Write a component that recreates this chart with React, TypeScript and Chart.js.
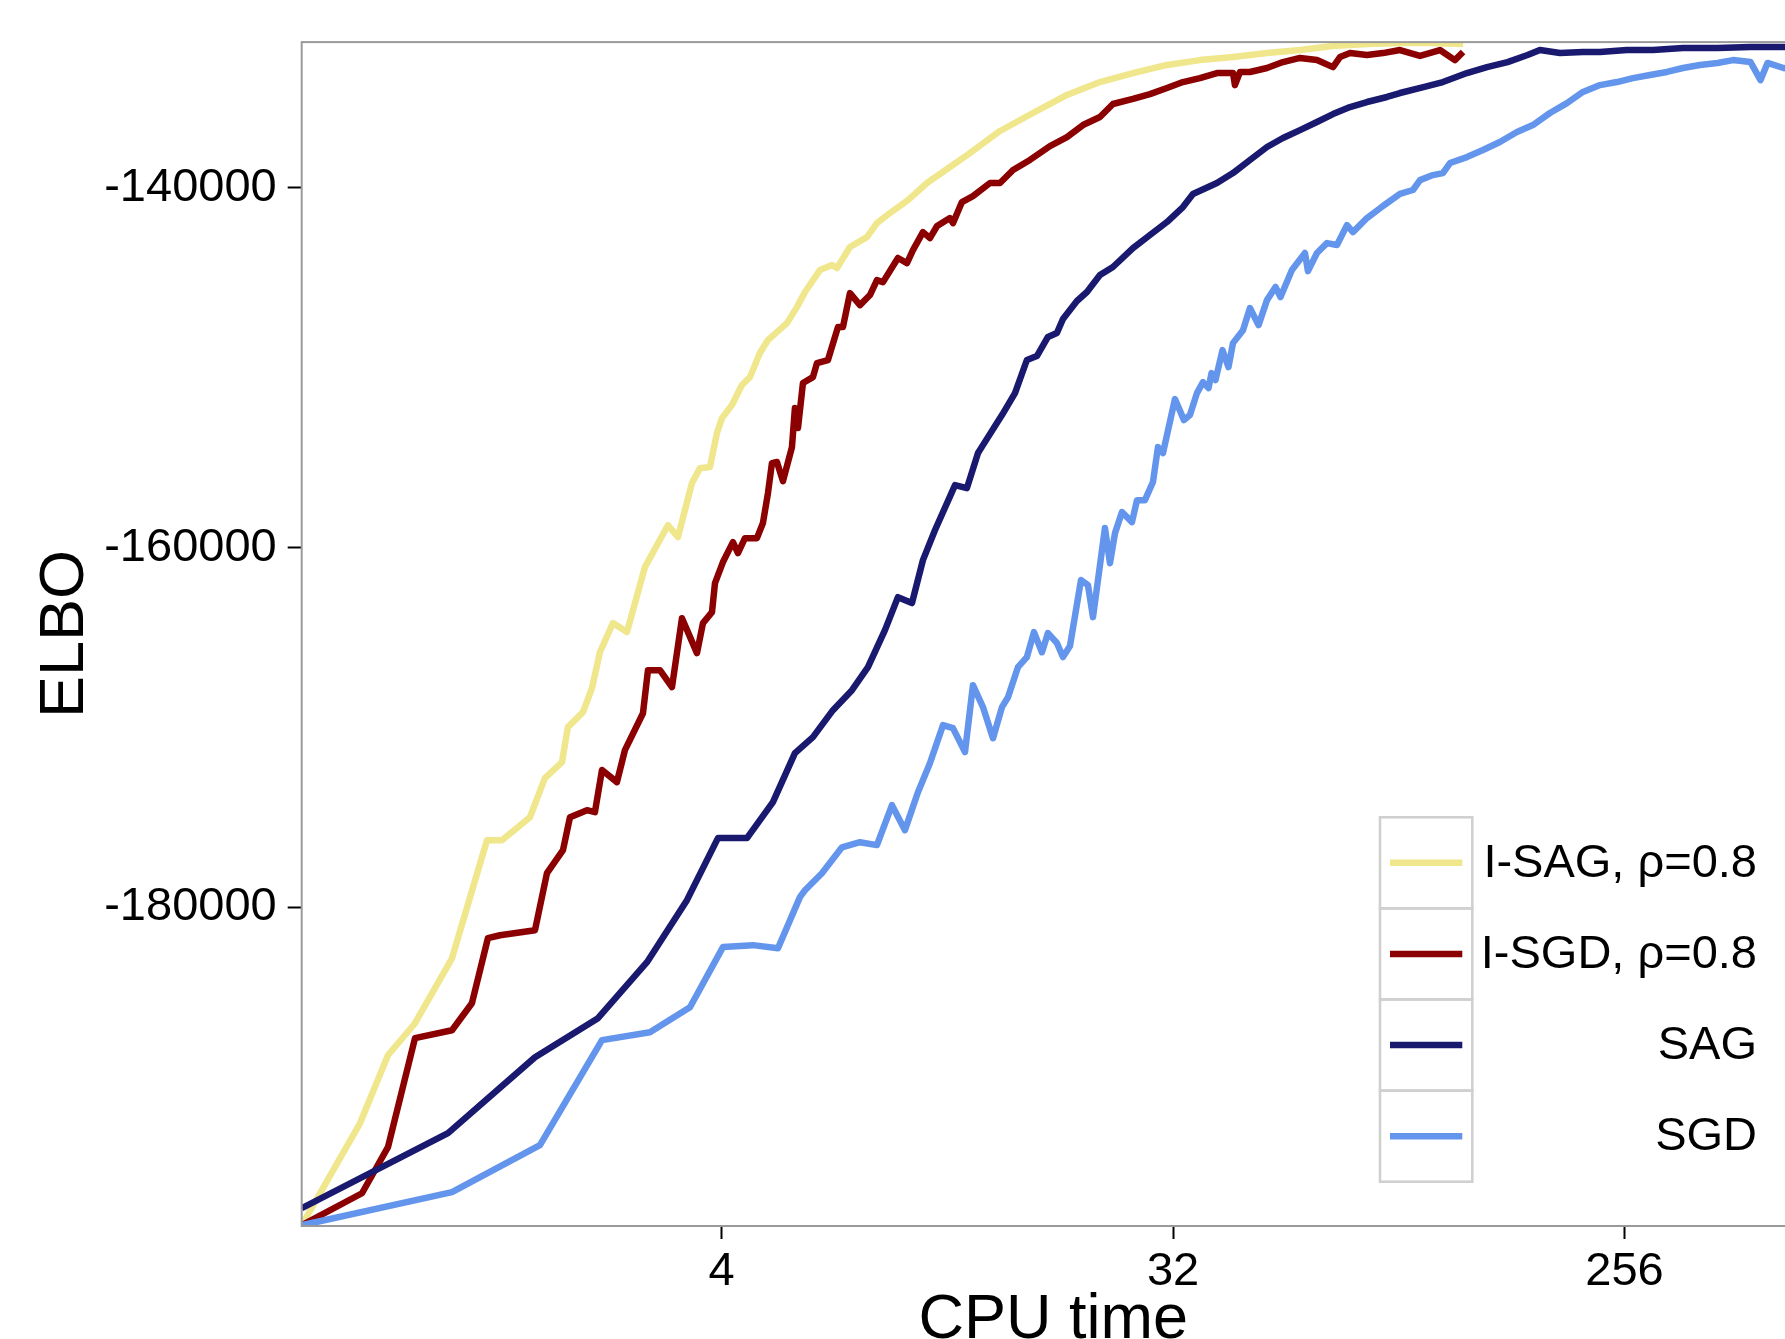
import React, { useEffect, useRef } from "react";
import { Chart, registerables } from "chart.js";

Chart.register(...registerables);

// ---------- data ----------
const seriesLabels = ["I-SAG, ρ=0.8", "I-SGD, ρ=0.8", "SAG", "SGD"];
const seriesColors = ["#F0E68C", "#8B0000", "#191970", "#6495ED"];
const xTickValues = [4, 32, 256];
const yTickValues = [-180000, -160000, -140000];

const isagTime = [0.578, 0.756, 0.86, 0.974, 1.155, 1.357, 1.454, 1.654, 1.772, 1.917, 1.97, 2.112, 2.201, 2.283, 2.424, 2.586, 2.809, 3.123, 3.271, 3.488, 3.62, 3.79, 3.914, 4.006, 4.194, 4.392, 4.557, 4.771, 4.951, 5.404, 5.658, 5.871, 6.291, 6.649, 6.804, 7.223, 7.812, 8.18, 8.685, 9.437, 10.3, 11.45, 12.55, 14.42, 16.78, 19.63, 22.85, 26.6, 31.11, 36.22, 42.17, 49.32, 57.42, 66.85, 78.17, 91.0, 104.5, 121.7];
const isagElbo = [-197660, -191990, -188210, -186430, -182820, -176260, -176260, -174980, -172810, -171920, -169970, -169140, -167810, -165810, -164190, -164690, -161080, -158750, -159410, -156410, -155580, -155520, -153630, -152800, -152070, -150960, -150520, -149180, -148460, -147520, -146630, -145790, -144570, -144290, -144460, -143290, -142740, -141960, -141400, -140680, -139730, -138840, -138070, -136840, -135840, -134840, -134120, -133620, -133170, -132900, -132730, -132510, -132340, -132120, -132010, -131950, -131950, -132010];

const isgdTime = [0.578, 0.763, 0.86, 0.974, 1.155, 1.266, 1.363, 1.441, 1.693, 1.789, 1.926, 1.989, 2.151, 2.231, 2.305, 2.469, 2.562, 2.784, 2.849, 3.01, 3.182, 3.332, 3.57, 3.67, 3.826, 3.879, 4.024, 4.214, 4.312, 4.453, 4.706, 4.838, 4.951, 5.043, 5.16, 5.305, 5.53, 5.606, 5.685, 5.817, 6.091, 6.205, 6.527, 6.835, 6.994, 7.223, 7.564, 7.921, 8.18, 8.41, 9.011, 9.393, 9.656, 10.11, 10.44, 10.79, 11.45, 11.61, 12.1, 12.73, 13.77, 14.42, 15.31, 16.55, 18.15, 19.63, 21.13, 22.85, 24.26, 26.6, 28.77, 31.11, 33.49, 36.22, 39.17, 42.17, 42.55, 43.55, 45.6, 49.32, 53.09, 57.42, 62.09, 66.85, 69.04, 72.3, 78.17, 84.16, 91.0, 99.8, 109.4, 117.2, 121.7];
const isgdElbo = [-197660, -195880, -193320, -187260, -186820, -185320, -181700, -181540, -181260, -178090, -176810, -174980, -174590, -174700, -172360, -173030, -171250, -169200, -166810, -166810, -167750, -163920, -165860, -164190, -163580, -161970, -160800, -159690, -160300, -159470, -159470, -158630, -156970, -155300, -155240, -156300, -154410, -152240, -153350, -150850, -150520, -149740, -149570, -147740, -147740, -145850, -146520, -145960, -145130, -145240, -143900, -144180, -143460, -142460, -142790, -142120, -141680, -141960, -140790, -140460, -139730, -139730, -139010, -138450, -137680, -137180, -136510, -136060, -135340, -135060, -134790, -134450, -134120, -133900, -133620, -133620, -134290, -133560, -133560, -133340, -133010, -132780, -132900, -133290, -132730, -132510, -132620, -132510, -132340, -132670, -132340, -132900, -132450];

const sagTime = [0.578, 1.134, 1.693, 2.263, 2.836, 3.409, 3.932, 4.495, 5.066, 5.606, 6.091, 6.679, 7.291, 7.848, 8.487, 9.011, 9.611, 10.11, 10.69, 11.72, 12.38, 13.03, 13.33, 14.55, 15.45, 16.32, 17.09, 17.98, 18.74, 19.27, 20.55, 21.52, 22.85, 24.26, 26.6, 28.77, 31.11, 33.49, 35.07, 39.17, 42.17, 45.6, 49.32, 53.09, 57.42, 62.09, 66.85, 72.3, 78.17, 85.72, 91.0, 101.4, 110.9, 123.9, 135.9, 149.4, 163.8, 173.4, 190.2, 211.4, 228.7, 258.9, 291.9, 335.1, 393.0, 457.5, 532.6, 588];
const sagElbo = [-196710, -192540, -188320, -186150, -183040, -179590, -176140, -176140, -174140, -171420, -170530, -169030, -167920, -166640, -164580, -162750, -163080, -160690, -159020, -156520, -156690, -154740, -154300, -152630, -151410, -149570, -149350, -148290, -148070, -147290, -146290, -145790, -144850, -144400, -143350, -142620, -141900, -141070, -140340, -139730, -139180, -138450, -137730, -137230, -136790, -136340, -135900, -135510, -135230, -134950, -134730, -134400, -134120, -133620, -133290, -133010, -132620, -132340, -132510, -132450, -132450, -132340, -132340, -132230, -132230, -132170, -132170, -132170];

const sgdTime = [0.578, 1.155, 1.732, 2.305, 2.875, 3.457, 4.024, 4.621, 5.185, 5.737, 5.871, 6.349, 6.962, 7.564, 8.18, 8.766, 9.306, 9.88, 10.44, 11.09, 11.61, 12.27, 12.73, 13.33, 13.96, 14.55, 14.96, 15.66, 16.32, 16.86, 17.49, 17.98, 18.74, 19.27, 19.9, 20.94, 21.62, 22.13, 23.38, 23.93, 24.49, 25.29, 26.48, 27.1, 28.11, 29.17, 29.85, 30.55, 32.28, 33.65, 34.59, 35.72, 36.73, 37.68, 38.2, 38.91, 40.18, 41.31, 42.17, 44.16, 45.6, 47.44, 49.32, 51.3, 52.49, 55.33, 58.75, 59.57, 62.09, 65.01, 68.08, 71.29, 73.29, 78.17, 84.16, 91.0, 96.62, 99.8, 105.9, 110.9, 114.6, 123.9, 133.4, 144.2, 156.0, 167.9, 181.6, 196.4, 211.4, 228.7, 247.3, 266.2, 287.9, 311.3, 335.1, 362.4, 393.0, 422.0, 457.5, 479.1, 494.8, 532.6, 588];
const sgdElbo = [-197660, -195820, -193210, -187370, -186930, -185540, -182200, -182090, -182260, -179420, -179040, -178090, -176650, -176370, -176530, -174310, -175700, -173590, -171980, -169860, -170030, -171360, -167640, -168860, -170590, -168860, -168310, -166640, -166080, -164690, -165810, -164750, -165300, -166080, -165470, -161800, -162080, -163860, -158910, -160860, -159190, -158020, -158580, -157360, -157360, -156350, -154410, -154740, -151740, -152910, -152630, -151410, -150800, -151130, -150300, -150680, -149020, -149960, -148630, -147910, -146680, -147630, -146240, -145510, -146070, -144570, -143620, -144630, -143620, -143070, -143180, -142070, -142460, -141680, -141010, -140340, -140120, -139570, -139290, -139180, -138620, -138290, -137900, -137450, -136900, -136510, -135840, -135290, -134670, -134290, -134120, -133900, -133730, -133560, -133340, -133170, -133060, -132900, -133010, -134010, -133060, -133340, -133510];

const seriesTimes = [isagTime, isgdTime, sagTime, sgdTime];
const seriesElbos = [isagElbo, isgdElbo, sagElbo, sgdElbo];

// ---------- layout ----------
const W = 1830;
const H = 1380;
const AREA = { left: 301.7, top: 42.1, right: 1805, bottom: 1226 };
const FONT = "'Liberation Sans', Arial, Helvetica, sans-serif";

const frameAndLegend = {
  id: "frameAndLegend",
  afterDatasetsDraw(chart: any) {
    const { ctx, chartArea } = chart;
    ctx.save();
    ctx.strokeStyle = "#9a9a9a";
    ctx.lineWidth = 2;
    ctx.strokeRect(chartArea.left, chartArea.top, chartArea.right - chartArea.left, chartArea.bottom - chartArea.top);
    ctx.restore();
  },
  afterDraw(chart: any) {
    const { ctx } = chart;
    const boxX = 1380;
    const boxW = 92.3;
    const boxY = 817.3;
    const keyH = 91.1;
    ctx.save();
    seriesLabels.forEach((label, i) => {
      const y0 = boxY + i * keyH;
      ctx.fillStyle = "#ffffff";
      ctx.fillRect(boxX, y0, boxW, keyH);
    });
    seriesLabels.forEach((label, i) => {
      const y0 = boxY + i * keyH;
      ctx.strokeStyle = "#d0d0d0";
      ctx.lineWidth = 2.6;
      ctx.strokeRect(boxX, y0, boxW, keyH);
      const cy = y0 + keyH / 2;
      ctx.strokeStyle = seriesColors[i];
      ctx.lineWidth = 6.5;
      ctx.lineCap = "butt";
      ctx.beginPath();
      ctx.moveTo(1390, cy);
      ctx.lineTo(1462.3, cy);
      ctx.stroke();
      ctx.fillStyle = "#000";
      ctx.font = `47px ${FONT}`;
      ctx.textAlign = "right";
      ctx.textBaseline = "middle";
      ctx.fillText(label, 1757, cy + 1);
    });
    ctx.restore();
  },
};

export default function App() {
  const ref = useRef<HTMLCanvasElement | null>(null);

  useEffect(() => {
    if (!ref.current) return;
    Chart.defaults.font.family = FONT;
    Chart.defaults.color = "#000";

    const datasets = seriesLabels.map((label, i) => ({
      label,
      data: seriesTimes[i].map((t, j) => ({ x: t, y: seriesElbos[i][j] })),
      borderColor: seriesColors[i],
      backgroundColor: seriesColors[i],
      borderWidth: 6.5,
      pointRadius: 0,
      tension: 0,
      fill: false,
      order: 4 - i,
      borderJoinStyle: "round" as const,
      borderCapStyle: "butt" as const,
    }));

    const chart = new Chart(ref.current, {
      type: "line",
      data: { datasets },
      plugins: [frameAndLegend],
      options: {
        animation: false,
        responsive: false,
        maintainAspectRatio: false,
        devicePixelRatio: 1,
        events: [],
        layout: { padding: { left: 0, top: AREA.top, right: W - AREA.right, bottom: 0 } },
        plugins: { legend: { display: false }, tooltip: { enabled: false } },
        scales: {
          x: {
            type: "logarithmic",
            min: 0.578,
            max: 588,
            afterFit: (s: any) => {
              s.height = H - AREA.bottom;
            },
            afterBuildTicks: (s: any) => {
              s.ticks = xTickValues.map((v) => ({ value: v }));
            },
            ticks: {
              callback: (v: any) => String(v),
              font: { size: 47 },
              color: "#000",
              padding: 5,
              autoSkip: false,
              maxRotation: 0,
              minRotation: 0,
            },
            grid: { drawOnChartArea: false, drawTicks: true, tickLength: 13, tickWidth: 2, tickColor: "#000" },
            border: { display: false },
            title: {
              display: true,
              text: "CPU time",
              font: { size: 63 },
              color: "#000",
              padding: { top: 0, bottom: 22 },
            },
          },
          y: {
            type: "linear",
            min: -197700,
            max: -131900,
            afterFit: (s: any) => {
              s.width = AREA.left;
            },
            afterBuildTicks: (s: any) => {
              s.ticks = yTickValues.map((v) => ({ value: v }));
            },
            ticks: {
              callback: (v: any) => String(v),
              font: { size: 47 },
              color: "#000",
              padding: 11,
            },
            grid: { drawOnChartArea: false, drawTicks: true, tickLength: 14, tickWidth: 2, tickColor: "#000" },
            border: { display: false },
            title: {
              display: true,
              text: "ELBO",
              font: { size: 63 },
              color: "#000",
              padding: { top: 28, bottom: 0 },
            },
          },
        },
      },
    } as any);

    return () => chart.destroy();
  }, []);

  return (
    <div
      style={{
        position: "fixed",
        left: 0,
        top: 0,
        width: 1785,
        height: 1339,
        overflow: "hidden",
        background: "#ffffff",
      }}
    >
      <canvas
        ref={ref}
        width={W}
        height={H}
        style={{ position: "absolute", left: 0, top: 0, width: W, height: H, display: "block" }}
      />
    </div>
  );
}
